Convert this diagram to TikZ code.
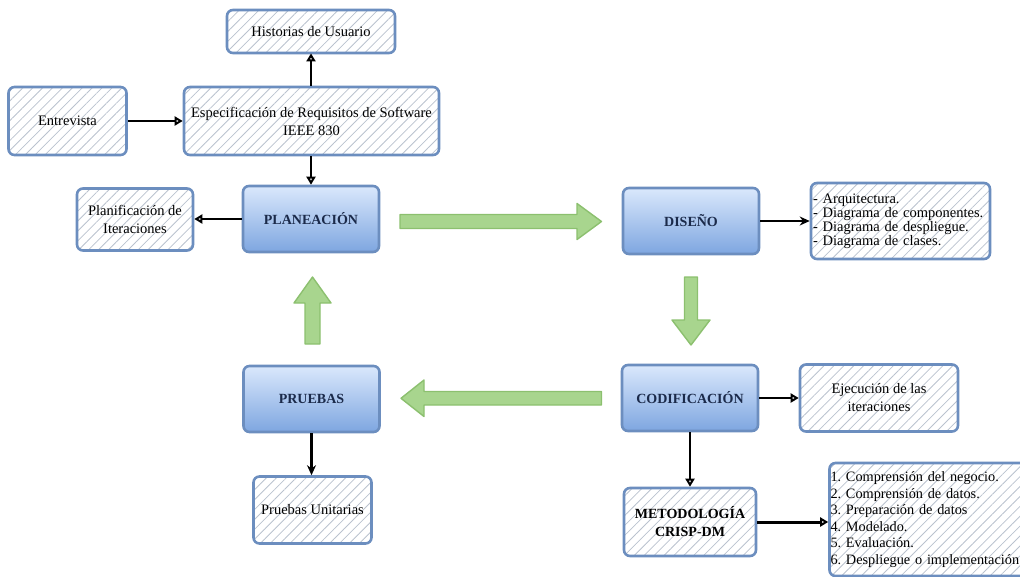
\documentclass[tikz,border=0pt]{standalone}
\usepackage{fontspec}
\setmainfont{Liberation Serif}
\usetikzlibrary{arrows.meta,patterns.meta,calc}

\definecolor{edgeblue}{HTML}{6C8EBF}
\definecolor{hatch}{HTML}{BAC2CE}
\definecolor{topblue}{HTML}{DAE8FC}
\definecolor{botblue}{HTML}{7EA6E0}
\definecolor{gfill}{HTML}{E4F4DA}
\definecolor{gdark}{HTML}{A8D58E}
\definecolor{gedge}{HTML}{8CC06F}
\definecolor{navy}{HTML}{1B2A4A}

\tikzset{
  base/.style={rounded corners=6pt, line width=2.6pt, draw=edgeblue, align=center,
    inner sep=2pt, font=\fontsize{14.5}{18}\selectfont},
  hatched/.style={base, pattern={Lines[angle=45,distance=7pt,line width=0.8pt]},
    pattern color=hatch},
  phase/.style={base, top color=topblue, bottom color=botblue,
    font=\fontsize{14}{17}\selectfont\bfseries, text=navy,
    minimum width=136pt, minimum height=66pt},
  conn/.style={line width=2.6pt, -{Triangle[open,length=8pt,width=9pt]}},
  sconn/.style={line width=2.2pt, -{Stealth[length=10pt,width=9pt]}},
  blockarrow/.style={draw=gedge, line width=1.4pt, line join=round},
}

\begin{document}
\frenchspacing
\begin{tikzpicture}[x=1pt,y=-1pt]
\useasboundingbox (0,0) rectangle (1020,576);
\clip (0,0) rectangle (1020,576);

% boxes of the planning phase
\node[hatched, minimum width=168pt, minimum height=43pt] (hist) at (311,31.5) {Historias de Usuario};
\node[hatched, minimum width=118pt, minimum height=68pt] (entr) at (67.5,121) {Entrevista};
\node[hatched, minimum width=255pt, minimum height=68pt] (espec) at (311.5,121)
  {Especificación de Requisitos de Software\\IEEE 830};
\node[hatched, minimum width=116pt, minimum height=62pt] (plani) at (135,219.5)
  {Planificación de\\Iteraciones};
\node[phase] (plan) at (311,219) {PLANEACIÓN};

% design
\node[phase] (dis) at (691,221) {DISEÑO};
\node[hatched, text width=175pt, align=left, inner xsep=2pt, minimum height=76pt,
  font=\fontsize{14.5}{14}\selectfont] (dlist) at (900.5,221)
  {- Arquitectura.\\- Diagrama de componentes.\\- Diagrama de despliegue.\\- Diagrama de clases.};

% coding
\node[phase] (codif) at (690,398) {CODIFICACIÓN};
\node[hatched, minimum width=158pt, minimum height=67pt] (ejec) at (879,398)
  {Ejecución de las\\iteraciones};
\node[hatched, minimum width=132pt, minimum height=68pt,
  font=\fontsize{14}{18}\selectfont\bfseries] (metod) at (690,522) {METODOLOGÍA\\CRISP-DM};
\node[hatched, text width=198pt, align=left, inner xsep=1pt, minimum height=113pt,
  font=\fontsize{14.3}{16.6}\selectfont] (clist) at (929.5,519.5)
  {1. Comprensión del negocio.\\2. Comprensión de datos.\\3. Preparación de datos\\4. Modelado.\\5. Evaluación.\\6. Despliegue o implementación};

% testing
\node[phase] (pru) at (311.5,399) {PRUEBAS};
\node[hatched, minimum width=118pt, minimum height=67pt] (unit) at (312.5,510) {Pruebas Unitarias};

% connectors
\draw[conn] (entr.east) -- (entr.east -| espec.west);
\draw[conn] (hist.south |- espec.north) -- (hist.south);
\draw[conn] (plan.north |- espec.south) -- (plan.north);
\draw[conn] (plan.west) -- (plan.west -| plani.east);
\draw[sconn] (dis.east) -- (dis.east -| dlist.west);
\draw[conn] (codif.east) -- (codif.east -| ejec.west);
\draw[conn] (codif.south) -- (codif.south |- metod.north);
\draw[conn, line width=3pt] (metod.east) -- (metod.east -| clist.west);
\draw[sconn] (pru.south) -- (pru.south |- unit.north);

% block arrows of the cycle
\shade[blockarrow, top color=gdark, middle color=gfill, bottom color=gdark]
  (400,214.5) -- (577,214.5) -- (577,203.5) -- (601.5,221.5) -- (577,239.5)
  -- (577,228.5) -- (400,228.5) -- cycle;
\shade[blockarrow, left color=gdark, middle color=gfill, right color=gdark]
  (684.5,277) -- (697.5,277) -- (697.5,320) -- (710,320) -- (691,345)
  -- (672,320) -- (684.5,320) -- cycle;
\shade[blockarrow, top color=gdark, middle color=gfill, bottom color=gdark]
  (601.5,391.5) -- (424,391.5) -- (424,380) -- (401,398.3) -- (424,416.5)
  -- (424,405) -- (601.5,405) -- cycle;
\shade[blockarrow, left color=gdark, middle color=gfill, right color=gdark]
  (305,344) -- (305,303) -- (294,303) -- (312.5,277) -- (331,303)
  -- (320,303) -- (320,344) -- cycle;
\end{tikzpicture}
\end{document}
